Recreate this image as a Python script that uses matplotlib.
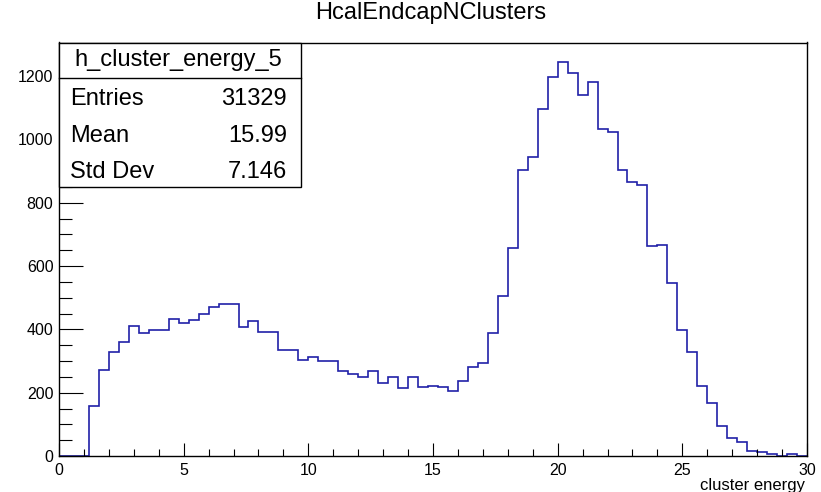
import numpy as np
import matplotlib
matplotlib.use("Agg")
import matplotlib.pyplot as plt
from matplotlib.patches import Rectangle
from matplotlib.ticker import MultipleLocator

plt.rcParams['font.family'] = ['Liberation Sans', 'DejaVu Sans']

# histogram contents, 75 bins of width 0.4 between 0 and 30
xmin, xmax, binWidth = 0.0, 30.0, 0.4
counts = [
    0, 0, 0, 159, 273, 330, 360, 411, 388, 399,
    399, 433, 421, 430, 449, 470, 479, 479, 407, 427,
    391, 391, 335, 335, 304, 313, 300, 300, 270, 259,
    250, 267, 231, 250, 216, 250, 217, 221, 217, 205,
    237, 281, 294, 389, 505, 658, 905, 943, 1096, 1198,
    1244, 1211, 1141, 1182, 1034, 1024, 902, 867, 857, 663,
    667, 545, 399, 330, 221, 167, 95, 56, 45, 16,
    12, 5, 1, 5, 0,
]

histTitle = "HcalEndcapNClusters"
histName = "h_cluster_energy_5"
xLabel = "cluster energy"
statNames = ["Entries", "Mean", "Std Dev"]
statValues = ["31329", "15.99", "7.146"]

W, H = 821, 492
lineColor = '#2020a8'


def px(x, y):
    # pixel position (from top left) to figure fraction
    return x / W, 1 - y / H


fig = plt.figure(figsize=(W / 100, H / 100), dpi=100)
left, top = px(59, 42.5)
right, bottom = px(807, 456)
ax = fig.add_axes([left, bottom, right - left, top - bottom])

edges = np.arange(xmin, xmax + binWidth / 2, binWidth)
ax.stairs(np.array(counts), edges, color=lineColor, linewidth=1.2)

ax.set_xlim(xmin, xmax)
ax.set_ylim(0, 1.05 * max(counts))

ax.xaxis.set_major_locator(MultipleLocator(5))
ax.xaxis.set_minor_locator(MultipleLocator(1))
ax.yaxis.set_major_locator(MultipleLocator(200))
ax.yaxis.set_minor_locator(MultipleLocator(50))

ax.tick_params(axis='both', which='both', direction='in', top=False, right=False,
               width=0.8, color='black', labelsize=11.5)
ax.tick_params(axis='x', which='major', length=9.5, pad=5)
ax.tick_params(axis='x', which='minor', length=5)
ax.tick_params(axis='y', which='major', length=17, pad=4)
ax.tick_params(axis='y', which='minor', length=9.5)
for s in ax.spines.values():
    s.set_linewidth(1.0)
    s.set_color('black')

# x axis title at the right end, below the tick labels
fig.text(*px(805, 490), xLabel, ha='right', va='baseline', fontsize=12)

# histogram title
fig.text(*px(431, 19), histTitle, ha='center', va='baseline', fontsize=17)

# stats box
bx0, by0 = px(59, 187)
bx1, by1 = px(301, 42.5)
fig.patches.append(Rectangle((bx0, by0), bx1 - bx0, by1 - by0, transform=fig.transFigure,
                             facecolor='white', edgecolor='black', linewidth=1.0, zorder=5))
dx0, dy = px(59, 77.7)
dx1, _ = px(301, 77.7)
fig.add_artist(plt.Line2D([dx0, dx1], [dy, dy], transform=fig.transFigure,
                          color='black', linewidth=1.0, zorder=6))
fig.text(*px(178, 66), histName, ha='center', va='baseline', fontsize=17, zorder=7)
for name, value, yb in zip(statNames, statValues, [105, 141.7, 177.7]):
    fig.text(*px(70, yb), name, ha='left', va='baseline', fontsize=17, zorder=7)
    fig.text(*px(287, yb), value, ha='right', va='baseline', fontsize=17, zorder=7)

fig.savefig("out.png", dpi=100, facecolor='white')
